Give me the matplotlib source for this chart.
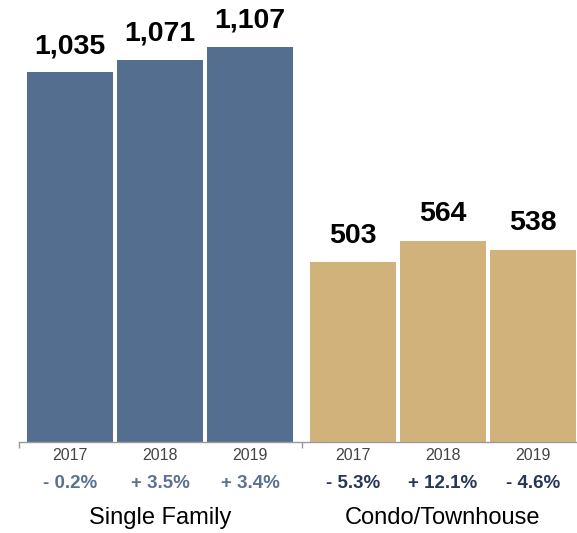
import matplotlib
matplotlib.use("Agg")
import matplotlib.pyplot as plt
import matplotlib.transforms as mtransforms

plt.rcParams['font.family'] = ['Liberation Sans', 'DejaVu Sans']

groups = ["Single Family", "Condo/Townhouse"]
years = ["2017", "2018", "2019"]
single_family = [1035, 1071, 1107]
condo = [503, 564, 538]
sf_change = ["- 0.2%", "+ 3.5%", "+ 3.4%"]
condo_change = ["- 5.3%", "+ 12.1%", "- 4.6%"]

sf_color = "#546e90"
condo_color = "#d1b27a"
sf_text = "#5b7193"
condo_text = "#27365a"

W, H = 577, 533
fig = plt.figure(figsize=(W / 100, H / 100), dpi=100)
ax = fig.add_axes([19 / W, 91 / H, 1 - 19 / W, 1 - 91 / H])

# second group shifted right by an extra gap
gap = 0.144
sf_x = [0, 1, 2]
condo_x = [3 + gap + i for i in range(3)]

ax.bar(sf_x, single_family, width=0.956, color=sf_color)
ax.bar(condo_x, condo, width=0.956, color=condo_color)

ax.set_xlim(-0.567, 5.633)
ax.set_ylim(0, 1238)

for x, v in zip(sf_x + condo_x, single_family + condo):
    ax.annotate(f"{v:,}", (x, v), xytext=(0, 14), textcoords="offset points",
                ha="center", va="baseline", fontsize=20.5, fontweight="bold",
                color="black")

for s in ["top", "right", "left"]:
    ax.spines[s].set_visible(False)
ax.spines["bottom"].set_color("#999999")
ax.spines["bottom"].set_linewidth(1)
ax.set_yticks([])
sep = (2 + condo_x[0]) / 2
ax.set_xticks([-0.567, sep])
ax.set_xticklabels([])
ax.tick_params(axis="x", length=4, color="#999999", width=1, direction="out")

trans = mtransforms.blended_transform_factory(ax.transData, fig.transFigure)
def fy(py):
    return 1 - py / H

for x, yr in zip(sf_x + condo_x, years + years):
    ax.text(x, fy(455), yr, transform=trans, ha="center", va="center",
            fontsize=11.5, color="#444444")

for x, c in zip(sf_x, sf_change):
    ax.text(x, fy(483), c, transform=trans, ha="center", va="center",
            fontsize=13.5, fontweight="bold", color=sf_text)
for x, c in zip(condo_x, condo_change):
    ax.text(x, fy(483), c, transform=trans, ha="center", va="center",
            fontsize=13.5, fontweight="bold", color=condo_text)

ax.text(sf_x[1], fy(518), groups[0], transform=trans, ha="center", va="center",
        fontsize=17, color="black")
ax.text(condo_x[1], fy(518), groups[1], transform=trans, ha="center",
        va="center", fontsize=17, color="black")

fig.savefig("out.png", dpi=100)
